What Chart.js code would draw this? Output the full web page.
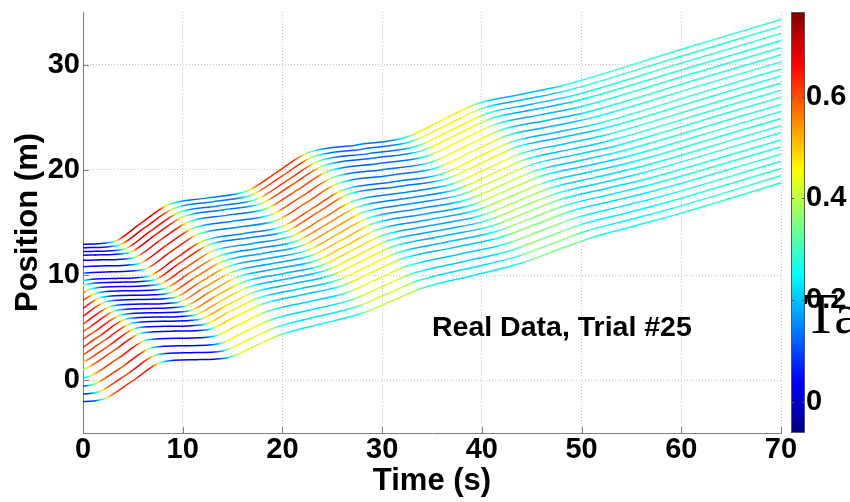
<!DOCTYPE html>
<html>
<head>
<meta charset="utf-8">
<title>Real Data, Trial #25</title>
<script src="https://cdn.jsdelivr.net/npm/chart.js@4.4.1/dist/chart.umd.min.js"></script>
<style>
  html, body { margin: 0; padding: 0; background: #fff; }
  canvas { display: block; }
</style>
</head>
<body>
<canvas id="trajChart" width="850" height="502"></canvas>
<script>
// axes
const timeTicks = [0, 10, 20, 30, 40, 50, 60, 70];
const posTicks = [0, 10, 20, 30];
const speedTicks = [0, 0.2, 0.4, 0.6];
const timeRange = [0, 70];
const posRange = [-5, 35];
const speedRange = [-0.062, 0.767];

// vehicle trajectories, [time (s), position (m)], front vehicle first
const veh00 = [[-6.5,10.92],[-3.5,12.72],[-0.25,12.93],[3,13.14],[5.75,14.9],[8.5,16.66],[12.5,17.34],[16.5,18.02],[19.5,19.82],[22.5,21.62],[27.5,22.37],[32.5,23.13],[36,24.71],[39.5,26.29],[44,27.19],[48,27.99],[59,31.15],[70,34.3]];
const veh01 = [[-6,10.62],[-3,12.41],[0.25,12.61],[3.5,12.82],[6.25,14.56],[9,16.3],[13,16.98],[17,17.66],[20,19.44],[23,21.22],[28,21.97],[33,22.72],[36.5,24.28],[40,25.84],[44.5,26.73],[48.5,27.53],[59.5,30.66],[70.5,33.78]];
const veh02 = [[-5.5,10.27],[-2.5,12.05],[0.75,12.25],[4,12.44],[6.75,14.17],[9.5,15.9],[13.5,16.57],[17.5,17.24],[20.5,19.01],[23.5,20.78],[28.5,21.52],[33.5,22.26],[37,23.81],[40.5,25.36],[45,26.24],[49,27.03],[60,30.14],[71,33.24]];
const veh03 = [[-8,8.18],[-5,9.96],[-2,11.74],[1.25,11.92],[4.5,12.11],[7.25,13.82],[10,15.53],[14,16.19],[18,16.86],[21,18.61],[24,20.36],[29,21.1],[34,21.83],[37.5,23.37],[41,24.9],[45.5,25.78],[49.5,26.56],[60.5,29.64],[71.5,32.7]];
const veh04 = [[-7.5,7.71],[-4.5,9.49],[-1.5,11.26],[1.75,11.45],[5,11.63],[7.75,13.33],[10.5,15.03],[14.5,15.7],[18.5,16.36],[21.5,18.1],[24.5,19.84],[29.5,20.58],[34.5,21.32],[38,22.85],[41.5,24.37],[46,25.25],[50,26.03],[61,29.11],[72,32.16]];
const veh05 = [[-7,7.14],[-4,8.92],[-1,10.69],[2.25,10.88],[5.5,11.06],[8.25,12.76],[11,14.45],[15,15.12],[19,15.8],[22,17.53],[25,19.26],[30,20.01],[35,20.76],[38.5,22.29],[42,23.81],[46.5,24.7],[50.5,25.48],[61.5,28.57],[72.5,31.63]];
const veh06 = [[-6.5,6.57],[-3.5,8.34],[-0.5,10.12],[2.75,10.31],[6,10.5],[8.75,12.18],[11.5,13.87],[15.5,14.55],[19.5,15.24],[22.5,16.96],[25.5,18.69],[30.5,19.45],[35.5,20.21],[39,21.73],[42.5,23.25],[47,24.14],[51,24.94],[62,28.03],[73,31.1]];
const veh07 = [[-6,5.93],[-3,7.72],[0,9.5],[3.25,9.69],[6.5,9.88],[9.25,11.56],[12,13.24],[16,13.94],[20,14.63],[23,16.35],[26,18.07],[31,18.85],[36,19.62],[39.5,21.15],[43,22.66],[47.5,23.57],[51.5,24.37],[62.5,27.48],[73.5,30.57]];
const veh08 = [[-8,5.31],[-5.5,5.59],[-2.5,7.37],[0.5,9.15],[3.75,9.33],[7,9.52],[9.75,11.18],[12.5,12.84],[16.5,13.53],[20.5,14.22],[23.5,15.93],[26.5,17.63],[31.5,18.4],[36.5,19.17],[40,20.68],[43.5,22.18],[48,23.08],[52,23.88],[63,26.97],[74,30.03]];
const veh09 = [[-7.5,4.92],[-5,5.2],[-2,6.97],[1,8.74],[4.25,8.92],[7.5,9.1],[10.25,10.69],[13,12.28],[17,13.01],[21,13.73],[24,15.36],[27,16.99],[32,17.82],[37,18.65],[40.5,20.11],[44,21.57],[48.5,22.51],[52.5,23.34],[63.5,26.43],[74.5,29.5]];
const veh10 = [[-7,4.53],[-4.5,4.8],[-1.5,6.57],[1.5,8.33],[4.75,8.51],[8,8.68],[10.75,10.24],[13.5,11.78],[17.5,12.53],[21.5,13.27],[24.5,14.87],[27.5,16.46],[32.5,17.31],[37.5,18.16],[41,19.6],[44.5,21.03],[49,21.97],[53,22.82],[64,25.9],[75,28.96]];
const veh11 = [[-6.5,4.13],[-4,4.4],[-1,6.16],[2,7.92],[5.25,8.09],[8.5,8.26],[11.25,9.79],[14,11.29],[18,12.06],[22,12.82],[25,14.37],[28,15.93],[33,16.8],[38,17.67],[41.5,19.08],[45,20.5],[49.5,21.45],[53.5,22.3],[64.5,25.38],[75.5,28.43]];
const veh12 = [[-6,3.74],[-3.5,4],[-0.5,5.76],[2.5,7.51],[5.75,7.68],[9,7.84],[11.75,9.34],[14.5,10.8],[18.5,11.58],[22.5,12.35],[25.5,13.87],[28.5,15.39],[33.5,16.28],[38.5,17.17],[42,18.56],[45.5,19.95],[50,20.92],[54,21.78],[65,24.83],[76,27.88]];
const veh13 = [[-5.5,3.34],[-3,3.6],[0,5.35],[3,7.1],[6.25,7.26],[9.5,7.41],[12.25,8.88],[15,10.31],[19,11.1],[23,11.89],[26,13.37],[29,14.85],[34,15.76],[39,16.67],[42.5,18.05],[46,19.41],[50.5,20.39],[54.5,21.25],[65.5,24.3],[76.5,27.34]];
const veh14 = [[-5,2.94],[-2.5,3.2],[0.5,4.94],[3.5,6.69],[6.75,6.84],[10,6.99],[12.75,8.42],[15.5,9.83],[19.5,10.62],[23.5,11.42],[26.5,12.87],[29.5,14.32],[34.5,15.24],[39.5,16.18],[43,17.52],[46.5,18.86],[51,19.85],[55,20.73],[66,23.77],[77,26.79]];
const veh15 = [[-4.5,2.54],[-2,2.79],[1,4.53],[4,6.27],[7.25,6.42],[10.5,6.56],[13.25,7.97],[16,9.33],[20,10.14],[24,10.95],[27,12.37],[30,13.77],[35,14.73],[40,15.68],[43.5,17],[47,18.32],[51.5,19.31],[55.5,20.2],[66.5,23.23],[77.5,26.25]];
const veh16 = [[-4,2.14],[-1.5,2.38],[1.5,4.12],[4.5,5.87],[7.75,6.02],[11,6.17],[13.75,7.51],[16.5,8.84],[20.5,9.66],[24.5,10.48],[27.5,11.86],[30.5,13.24],[35.5,14.21],[40.5,15.18],[44,16.48],[47.5,17.77],[52,18.78],[56,19.68],[67,22.71],[78,25.7]];
const veh17 = [[-3.5,1.73],[-1,1.97],[2,3.7],[5,5.45],[8.25,5.61],[11.5,5.75],[14.25,7.04],[17,8.34],[21,9.17],[25,10.01],[28,11.36],[31,12.69],[36,13.69],[41,14.68],[44.5,15.96],[48,17.23],[52.5,18.24],[56.5,19.14],[67.5,22.15],[78.5,25.15]];
const veh18 = [[-3,1.27],[-0.5,1.51],[2.5,3.24],[5.5,5],[8.75,5.14],[12,5.29],[14.75,6.55],[17.5,7.8],[21.5,8.66],[25.5,9.51],[28.5,10.82],[31.5,12.13],[36.5,13.14],[41.5,14.16],[45,15.42],[48.5,16.66],[53,17.69],[57,18.61],[68,21.62],[79,24.62]];
const veh19 = [[-2.5,0.81],[0,1.05],[3,2.77],[6,4.53],[9.25,4.68],[12.5,4.82],[15.25,6.04],[18,7.26],[22,8.13],[26,9],[29,10.28],[32,11.55],[37,12.59],[42,13.63],[45.5,14.86],[49,16.09],[53.5,17.13],[57.5,18.06],[68.5,21.07],[79.5,24.06]];
const veh20 = [[-2,0.11],[0.5,0.35],[3.5,2.08],[6.5,3.85],[9.75,4],[13,4.16],[15.75,5.36],[18.5,6.56],[22.5,7.45],[26.5,8.35],[29.5,9.6],[32.5,10.86],[37.5,11.93],[42.5,13.01],[46,14.24],[49.5,15.46],[54,16.53],[58,17.48],[69,20.53],[80,23.55]];
const veh21 = [[-1.5,-0.65],[1,-0.4],[4,1.34],[7,3.12],[10.25,3.29],[13.5,3.46],[16.25,4.64],[19,5.81],[23,6.74],[27,7.67],[30,8.9],[33,10.13],[38,11.25],[43,12.37],[46.5,13.6],[50,14.82],[54.5,15.91],[58.5,16.9],[69.5,19.99],[80.5,23.06]];
const veh22 = [[-1,-1.35],[1.5,-1.1],[4.5,0.65],[7.5,2.45],[10.75,2.63],[14,2.8],[16.75,3.95],[19.5,5.1],[23.5,6.06],[27.5,7.02],[30.5,8.23],[33.5,9.44],[38.5,10.6],[43.5,11.76],[47,12.97],[50.5,14.19],[55,15.31],[59,16.32],[70,19.44]];
const veh23 = [[-0.5,-2.05],[2,-1.79],[5,-0.03],[8,1.78],[11.25,1.97],[14.5,2.16],[17.25,3.27],[20,4.4],[24,5.39],[28,6.37],[31,7.56],[34,8.75],[39,9.95],[44,11.15],[47.5,12.36],[51,13.55],[55.5,14.72],[59.5,15.75],[70.5,18.91]];

const vehicles = [veh00, veh01, veh02, veh03, veh04, veh05, veh06, veh07, veh08, veh09, veh10, veh11,
                  veh12, veh13, veh14, veh15, veh16, veh17, veh18, veh19, veh20, veh21, veh22, veh23];

const annotation = 'Real Data, Trial #25';
const strayText = 'Ta';

const sans = "'Liberation Sans', Arial, Helvetica, sans-serif";

function clamp01(v) {
    return Math.min(1, Math.max(0, v));
}

// matlab jet colormap
function jet(speed) {
    const f = clamp01((speed - speedRange[0]) / (speedRange[1] - speedRange[0]));
    const r = clamp01(1.5 - Math.abs(4 * f - 3));
    const g = clamp01(1.5 - Math.abs(4 * f - 2));
    const b = clamp01(1.5 - Math.abs(4 * f - 1));
    return `rgb(${Math.round(r * 255)},${Math.round(g * 255)},${Math.round(b * 255)})`;
}

// speed between two samples of a trajectory
function chord(data, a, b) {
    return (data[b][1] - data[a][1]) / (data[b][0] - data[a][0]);
}

// colour each piece of a trajectory by speed: half from the sample-to-sample speed,
// half from the slope of the drawn curve
function segColor(ctx) {
    const chart = ctx.chart;
    const data = chart.data.datasets[ctx.datasetIndex].data;
    const i0 = ctx.p0DataIndex, i1 = ctx.p1DataIndex;
    const p0 = ctx.p0, p1 = ctx.p1;
    const vSeg = chord(data, i0, i1);
    const v0 = i0 > 0 ? (chord(data, i0 - 1, i0) + vSeg) / 2 : vSeg;
    const v1 = i1 < data.length - 1 ? (vSeg + chord(data, i1, i1 + 1)) / 2 : vSeg;
    const span = p1.x - p0.x;
    if (!(span > 0)) {
        return jet(vSeg);
    }
    const xs = chart.scales.x, ys = chart.scales.y;
    const sx = xs.getPixelForValue(1) - xs.getPixelForValue(0);
    const sy = ys.getPixelForValue(0) - ys.getPixelForValue(1);
    const c1x = p0.cp2x ?? p0.x, c1y = p0.cp2y ?? p0.y;
    const c2x = p1.cp1x ?? p1.x, c2y = p1.cp1y ?? p1.y;
    const grad = chart.ctx.createLinearGradient(p0.x, 0, p1.x, 0);
    const n = 10;
    for (let i = 0; i <= n; i++) {
        const u = i / n, w = 1 - u;
        let vc = vSeg;
        if (u < 0.3) vc = v0 + (vSeg - v0) * u / 0.3;
        else if (u > 0.7) vc = v1 + (vSeg - v1) * (1 - u) / 0.3;
        const dx = 3 * w * w * (c1x - p0.x) + 6 * w * u * (c2x - c1x) + 3 * u * u * (p1.x - c2x);
        const dy = 3 * w * w * (c1y - p0.y) + 6 * w * u * (c2y - c1y) + 3 * u * u * (p1.y - c2y);
        const bx = w * w * w * p0.x + 3 * w * w * u * c1x + 3 * w * u * u * c2x + u * u * u * p1.x;
        const vd = dx > 0 ? (-dy / sy) / (dx / sx) : vc;
        grad.addColorStop(clamp01((bx - p0.x) / span), jet(0.5 * vc + 0.5 * vd));
    }
    return grad;
}

const colorbar = {
    id: 'colorbar',
    afterDraw(chart) {
        const {ctx, chartArea} = chart;
        const s = chart.scales.speed;
        const top = s.getPixelForValue(speedRange[1]);
        const bot = s.getPixelForValue(speedRange[0]);
        const x0 = chartArea.right + 10, w = 14;
        const grad = ctx.createLinearGradient(0, bot, 0, top);
        for (let i = 0; i <= 16; i++) {
            grad.addColorStop(i / 16, jet(speedRange[0] + (speedRange[1] - speedRange[0]) * i / 16));
        }
        ctx.save();
        ctx.fillStyle = grad;
        ctx.fillRect(x0, top, w, bot - top);
        ctx.strokeStyle = '#5a5a5a';
        ctx.lineWidth = 1;
        ctx.strokeRect(x0 + 0.5, top + 0.5, w - 1, bot - top - 1);
        ctx.beginPath();
        speedTicks.forEach(v => {
            const y = Math.round(s.getPixelForValue(v)) + 0.5;
            ctx.moveTo(x0, y); ctx.lineTo(x0 + 3, y);
            ctx.moveTo(x0 + w - 3, y); ctx.lineTo(x0 + w, y);
        });
        ctx.stroke();

        // stray text over the colour bar labels
        ctx.fillStyle = '#000';
        ctx.font = "56px 'Liberation Serif', 'Times New Roman', serif";
        ctx.textAlign = 'left';
        ctx.textBaseline = 'alphabetic';
        ctx.fillText(strayText, 804, 333);
        ctx.restore();
    }
};

const marks = {
    id: 'marks',
    afterDatasetsDraw(chart) {
        const {ctx, chartArea: a, scales: {x, y}} = chart;
        ctx.save();
        ctx.strokeStyle = '#7f7f7f';
        ctx.lineWidth = 1;
        ctx.beginPath();
        timeTicks.forEach(v => {
            const px = Math.round(x.getPixelForValue(v)) + 0.5;
            ctx.moveTo(px, a.bottom); ctx.lineTo(px, a.bottom - 6);
        });
        posTicks.forEach(v => {
            const py = Math.round(y.getPixelForValue(v)) + 0.5;
            ctx.moveTo(a.left, py); ctx.lineTo(a.left + 6, py);
        });
        ctx.stroke();

        ctx.fillStyle = '#000';
        ctx.font = `bold 28.5px ${sans}`;
        ctx.textAlign = 'left';
        ctx.textBaseline = 'middle';
        ctx.fillText(annotation, x.getPixelForValue(35), y.getPixelForValue(5));
        ctx.restore();
    }
};

const tickFont = {family: sans, size: 29, weight: 'bold'};
const titleFont = {family: sans, size: 31, weight: 'bold'};

function noEdgePadding(s) {
    s.paddingTop = 0;
    s.paddingBottom = 0;
}

new Chart(document.getElementById('trajChart'), {
    type: 'line',
    data: {
        datasets: vehicles.map((v, i) => ({
            label: 'Vehicle ' + (i + 1),
            data: v,
            borderWidth: 1.5,
            borderCapStyle: 'round',
            pointRadius: 0,
            cubicInterpolationMode: 'monotone',
            borderColor: '#00c0ff',
            segment: {
                borderColor: segColor,
                borderDashOffset: c => c.p0DataIndex
            }
        }))
    },
    options: {
        responsive: false,
        animation: false,
        events: [],
        layout: {padding: {top: 12, left: 0, right: 0, bottom: 0}},
        plugins: {legend: {display: false}, tooltip: {enabled: false}},
        scales: {
            x: {
                type: 'linear',
                min: timeRange[0],
                max: timeRange[1],
                afterBuildTicks: s => { s.ticks = timeTicks.map(v => ({value: v})); },
                afterFit: s => { s.height = 69; s.paddingLeft = 0; s.paddingRight = 0; },
                grid: {color: '#c4c4c4', drawTicks: false},
                border: {color: '#7f7f7f', dash: [1, 2]},
                ticks: {color: '#000', font: tickFont, padding: 0, maxRotation: 0, callback: v => String(v)},
                title: {display: true, text: 'Time (s)', color: '#000', font: titleFont, padding: {top: 0, bottom: 2}}
            },
            y: {
                type: 'linear',
                min: posRange[0],
                max: posRange[1],
                afterBuildTicks: s => { s.ticks = posTicks.map(v => ({value: v})); },
                afterFit: s => { s.width = 83; noEdgePadding(s); },
                grid: {color: '#c4c4c4', drawTicks: false},
                border: {color: '#7f7f7f', dash: [1, 2]},
                ticks: {color: '#000', font: tickFont, padding: 3, callback: v => String(v)},
                title: {display: true, text: 'Position (m)', color: '#000', font: titleFont, padding: {top: 10, bottom: 0}}
            },
            speed: {
                type: 'linear',
                axis: 'y',
                position: 'right',
                min: speedRange[0],
                max: speedRange[1],
                afterBuildTicks: s => { s.ticks = speedTicks.map(v => ({value: v})); },
                afterFit: s => { s.width = 69; noEdgePadding(s); },
                grid: {display: false, drawTicks: false},
                border: {display: false},
                ticks: {color: '#000', font: tickFont, padding: 25, callback: v => String(v)}
            }
        }
    },
    plugins: [colorbar, marks]
});
</script>
</body>
</html>
